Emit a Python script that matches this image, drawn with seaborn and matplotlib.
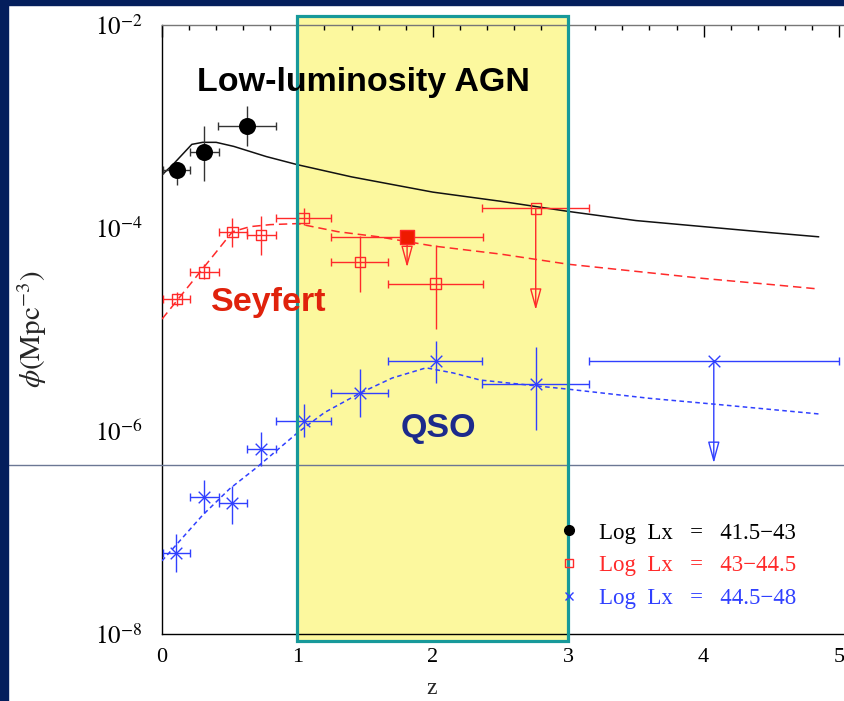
import matplotlib
matplotlib.use("Agg")
import numpy as np
import pandas as pd
import seaborn as sns
import matplotlib.pyplot as plt
from matplotlib.patches import Rectangle
from matplotlib.lines import Line2D
from matplotlib.ticker import FixedLocator, NullFormatter, FixedFormatter

# ---------------- data ----------------
# Low-luminosity AGN (Log Lx = 41.5-43): filled circles
llagn_z = [0.11, 0.31, 0.63]
llagn_z_lo = [0.01, 0.21, 0.41]
llagn_z_hi = [0.21, 0.42, 0.84]
llagn_logphi = [-3.43, -3.26, -3.00]
llagn_logphi_lo = [-3.58, -3.54, -3.20]
llagn_logphi_hi = [-3.36, -3.00, -2.80]

# Seyfert (Log Lx = 43-44.5): open squares
sey_z = [0.11, 0.31, 0.52, 0.73, 1.045, 1.46, 2.02]
sey_z_lo = [0.01, 0.21, 0.42, 0.63, 0.84, 1.25, 1.67]
sey_z_hi = [0.21, 0.42, 0.63, 0.84, 1.25, 1.67, 2.37]
sey_logphi = [-4.70, -4.44, -4.04, -4.07, -3.905, -4.34, -4.55]
sey_logphi_lo = [-4.77, -4.51, -4.19, -4.27, -3.97, -4.63, -5.00]
sey_logphi_hi = [-4.63, -4.36, -3.90, -3.89, -3.81, -4.085, -4.17]
# Seyfert upper limits
sey_lim_z = [1.81, 2.76]
sey_lim_z_lo = [1.25, 2.36]
sey_lim_z_hi = [2.37, 3.15]
sey_lim_logphi = [-4.09, -3.81]
sey_lim_arrow_to = [-4.39, -4.81]
sey_lim_filled = [True, False]

# QSO (Log Lx = 44.5-48): crosses
qso_z = [0.10, 0.31, 0.52, 0.73, 1.045, 1.46, 2.02, 2.76]
qso_z_lo = [0.01, 0.21, 0.42, 0.63, 0.84, 1.25, 1.67, 2.36]
qso_z_hi = [0.21, 0.42, 0.63, 0.84, 1.25, 1.67, 2.36, 3.15]
qso_logphi = [-7.20, -6.65, -6.71, -6.18, -5.90, -5.63, -5.31, -5.54]
qso_logphi_lo = [-7.39, -6.81, -6.92, -6.345, -6.06, -5.865, -5.53, -5.99]
qso_logphi_hi = [-7.02, -6.48, -6.54, -6.01, -5.74, -5.39, -5.12, -5.17]
# QSO upper limit
qso_lim_z = [4.075]
qso_lim_z_lo = [3.15]
qso_lim_z_hi = [5.00]
qso_lim_logphi = [-5.317]
qso_lim_arrow_to = [-6.318]

# model curves
llagn_curve_z = [0, 0.08, 0.15, 0.22, 0.30, 0.40, 0.53, 0.77, 1.0, 1.4, 2.0, 2.5, 3.0, 3.5, 4.0, 4.5, 4.85]
llagn_curve_logphi = [-3.48, -3.38, -3.28, -3.18, -3.16, -3.16, -3.20, -3.30, -3.38, -3.50,
                      -3.65, -3.74, -3.84, -3.93, -3.99, -4.05, -4.09]
sey_curve_z = [0, 0.2, 0.4, 0.52, 0.65, 0.8, 1.0, 1.3, 1.6, 2.0, 2.5, 3.0, 3.5, 4.0, 4.5, 4.82]
sey_curve_logphi = [-4.90, -4.57, -4.24, -4.04, -3.99, -3.97, -3.96, -4.04, -4.09, -4.18,
                    -4.26, -4.36, -4.43, -4.50, -4.56, -4.60]
qso_curve_z = [0, 0.3, 0.5, 0.7, 1.0, 1.2, 1.46, 1.7, 1.95, 2.15, 2.35, 3.0, 3.6, 4.1, 4.86]
qso_curve_logphi = [-7.28, -6.83, -6.57, -6.36, -6.02, -5.82, -5.63, -5.48, -5.38, -5.43,
                    -5.50, -5.59, -5.68, -5.74, -5.835]

legend_labels = ["Log  Lx   =   41.5\u221243", "Log  Lx   =   43\u221244.5", "Log  Lx   =   44.5\u221248"]
y_major = [1e-8, 1e-6, 1e-4, 1e-2]
y_major_labels = [r"$10^{-8}$", r"$10^{-6}$", r"$10^{-4}$", r"$10^{-2}$"]
y_minor = [1e-7, 1e-5, 1e-3]
x_major = [0, 1, 2, 3, 4, 5]

highlight_z = (1.0, 3.0)
highlight_logphi = (-8.069, -1.918)
reference_logphi = -6.335

# ---------------- style ----------------
NAVY = "#041e5c"
TEAL = "#17999a"
YELLOW = "#fcf89e"
C_BLACK = "#111111"
C_RED = "#ff2a2a"
C_BLUE = "#3040ff"

sns.set_theme(style="white")
plt.rcParams["font.family"] = ["Liberation Serif", "DejaVu Serif"]
plt.rcParams["mathtext.fontset"] = "stix"


def P(v):
    return 10.0 ** np.asarray(v, dtype=float)


fig = plt.figure(figsize=(8.45, 7.01), dpi=100)
fig.patch.set_facecolor("white")
W, H = 845.0, 701.0
ax = fig.add_axes([162 / W, (H - 634) / H, (845 - 162) / W, (634 - 24.5) / H])
ax.set_facecolor("white")
ax.set_yscale("log")
ax.set_xlim(0, 5.044)
ax.set_ylim(1e-8, 1e-2)

# highlighted redshift band
ax.add_patch(Rectangle((highlight_z[0], P(highlight_logphi[0])), highlight_z[1] - highlight_z[0],
                       P(highlight_logphi[1]) - P(highlight_logphi[0]),
                       facecolor=YELLOW, edgecolor="none", clip_on=False, zorder=0.5))
ax.add_patch(Rectangle((highlight_z[0], P(highlight_logphi[0])), highlight_z[1] - highlight_z[0],
                       P(highlight_logphi[1]) - P(highlight_logphi[0]),
                       facecolor="none", edgecolor=TEAL, lw=2.3, clip_on=False, zorder=6))

# reference horizontal line across the whole figure
ax.axhline(P(reference_logphi), xmin=-0.224, xmax=1.0, clip_on=False, color="#6b7794", lw=1.0, zorder=3)

# curves
curves = [
    (llagn_curve_z, llagn_curve_logphi, C_BLACK, "-"),
    (sey_curve_z, sey_curve_logphi, C_RED, (0, (5.5, 3.2))),
    (qso_curve_z, qso_curve_logphi, C_BLUE, (0, (3.0, 2.2))),
]
for cz, clp, col, ls in curves:
    df = pd.DataFrame({"z": cz, "phi": P(clp)})
    sns.lineplot(data=df, x="z", y="phi", ax=ax, color=col, lw=1.1, linestyle=ls,
                 sort=False, estimator=None, zorder=4)


def errbars(z, zlo, zhi, lp, lplo, lphi, ecol, z_only=False):
    z = np.asarray(z, float)
    phi = P(lp)
    ax.errorbar(z, phi, xerr=[z - np.asarray(zlo), np.asarray(zhi) - z], fmt="none",
                ecolor=ecol, elinewidth=1.0, capsize=3.0, capthick=1.0, zorder=4)
    if not z_only:
        ax.errorbar(z, phi, yerr=[phi - P(lplo), P(lphi) - phi], fmt="none",
                    ecolor=ecol, elinewidth=1.0, capsize=0, zorder=4)


errbars(llagn_z, llagn_z_lo, llagn_z_hi, llagn_logphi, llagn_logphi_lo, llagn_logphi_hi, "#333333")
errbars(sey_z, sey_z_lo, sey_z_hi, sey_logphi, sey_logphi_lo, sey_logphi_hi, C_RED)
errbars(qso_z, qso_z_lo, qso_z_hi, qso_logphi, qso_logphi_lo, qso_logphi_hi, C_BLUE)
errbars(sey_lim_z, sey_lim_z_lo, sey_lim_z_hi, sey_lim_logphi, None, None, C_RED, z_only=True)
errbars(qso_lim_z, qso_lim_z_lo, qso_lim_z_hi, qso_lim_logphi, None, None, C_BLUE, z_only=True)

# upper-limit arrows
for z, lp, lt, col in list(zip(sey_lim_z, sey_lim_logphi, sey_lim_arrow_to, [C_RED] * 2)) + \
        list(zip(qso_lim_z, qso_lim_logphi, qso_lim_arrow_to, [C_BLUE])):
    ax.annotate("", xy=(z, P(lt)), xytext=(z, P(lp)),
                arrowprops=dict(arrowstyle="-|>,head_length=1.1,head_width=0.3",
                                edgecolor=col, facecolor="none", lw=1.0,
                                shrinkA=0, shrinkB=0), zorder=4)

# markers
sns.scatterplot(x=llagn_z, y=P(llagn_logphi), ax=ax, marker="o", s=150, color="black",
                edgecolor="black", linewidth=0, zorder=5)
sns.scatterplot(x=sey_z, y=P(sey_logphi), ax=ax, marker="s", s=55, facecolor="none",
                edgecolor=C_RED, linewidth=1.0, zorder=5)
filled_z = [z for z, f in zip(sey_lim_z, sey_lim_filled) if f]
filled_lp = [v for v, f in zip(sey_lim_logphi, sey_lim_filled) if f]
open_z = [z for z, f in zip(sey_lim_z, sey_lim_filled) if not f]
open_lp = [v for v, f in zip(sey_lim_logphi, sey_lim_filled) if not f]
sns.scatterplot(x=filled_z, y=P(filled_lp), ax=ax, marker="s", s=100, color="#ee1a00",
                edgecolor=C_RED, linewidth=1.0, zorder=5)
sns.scatterplot(x=open_z, y=P(open_lp), ax=ax, marker="s", s=55, facecolor="none",
                edgecolor=C_RED, linewidth=1.0, zorder=5)
sns.scatterplot(x=qso_z + qso_lim_z, y=P(qso_logphi + qso_lim_logphi), ax=ax, marker="x", s=70,
                color=C_BLUE, linewidth=1.0, zorder=5)

# annotations
ax.text(0.259, P(-2.65), "Low-luminosity AGN", family="Liberation Sans", weight="bold",
        fontsize=24.5, color="black", ha="left", va="baseline", zorder=7)
ax.text(0.36, P(-4.825), "Seyfert", family="Liberation Sans", weight="bold",
        fontsize=24.5, color="#e0220c", ha="left", va="baseline", zorder=7)
ax.text(1.76, P(-6.056), "QSO", family="Liberation Sans", weight="bold",
        fontsize=24.5, color="#1c2a8c", ha="left", va="baseline", zorder=7)

# legend
handles = [
    Line2D([], [], ls="none", marker="o", color="black", ms=7),
    Line2D([], [], ls="none", marker="s", mfc="none", mec=C_RED, ms=6, mew=1.0),
    Line2D([], [], ls="none", marker="x", color=C_BLUE, ms=6, mew=1.0),
]
leg = ax.legend(handles, legend_labels, loc="upper left", bbox_to_anchor=(0.5798, 0.183),
                frameon=False, handlelength=0.95, handletextpad=0.85, borderpad=0, borderaxespad=0,
                labelspacing=0.52, prop={"family": "Liberation Serif", "size": 16.5})
for t, c in zip(leg.get_texts(), ["black", C_RED, C_BLUE]):
    t.set_color(c)
leg.set_zorder(8)

# ticks & spines
ax.xaxis.set_major_locator(FixedLocator(x_major))
ax.xaxis.set_minor_locator(FixedLocator(np.arange(0, 5.01, 0.2)))
ax.yaxis.set_major_locator(FixedLocator(y_major))
ax.yaxis.set_major_formatter(FixedFormatter(y_major_labels))
ax.yaxis.set_minor_locator(FixedLocator(y_minor))
ax.yaxis.set_minor_formatter(NullFormatter())
ax.tick_params(axis="both", which="major", direction="in", length=8.6, width=1.0, colors="black",
               top=True, right=False)
ax.tick_params(axis="both", which="minor", direction="in", length=3.6, width=1.0, colors="black",
               top=True, right=False)
ax.tick_params(axis="y", which="major", pad=14, labelsize=18)
ax.tick_params(axis="x", which="major", pad=10, labelsize=16)
for lab in ax.get_xticklabels():
    lab.set_family("Liberation Serif")
for side in ["left", "bottom"]:
    ax.spines[side].set_color("black")
    ax.spines[side].set_linewidth(1.0)
ax.spines["top"].set_color("#777777")
ax.spines["top"].set_linewidth(1.0)
ax.spines["right"].set_visible(False)

ax.set_xlabel("z", fontsize=17, family="Liberation Serif")
ax.xaxis.set_label_coords((432 - 162) / 683, (634 - 694) / 609.5)
ax.xaxis.label.set_va("baseline")
ax.set_ylabel(r"$\phi(\mathrm{Mpc}^{-3})$", fontsize=21)
ax.yaxis.set_label_coords((32 - 162) / 683, (634 - 329) / 609.5)
ax.yaxis.label.set_va("center")
ax.yaxis.label.set_ha("center")

# navy frame strips
fig.add_artist(Rectangle((0, 0), 8.5 / W, 1, transform=fig.transFigure, color=NAVY, zorder=20))
fig.add_artist(Rectangle((0, 1 - 5 / H), 1, 5 / H, transform=fig.transFigure, color=NAVY, zorder=20))

fig.savefig("out.png", dpi=100, facecolor="white")
